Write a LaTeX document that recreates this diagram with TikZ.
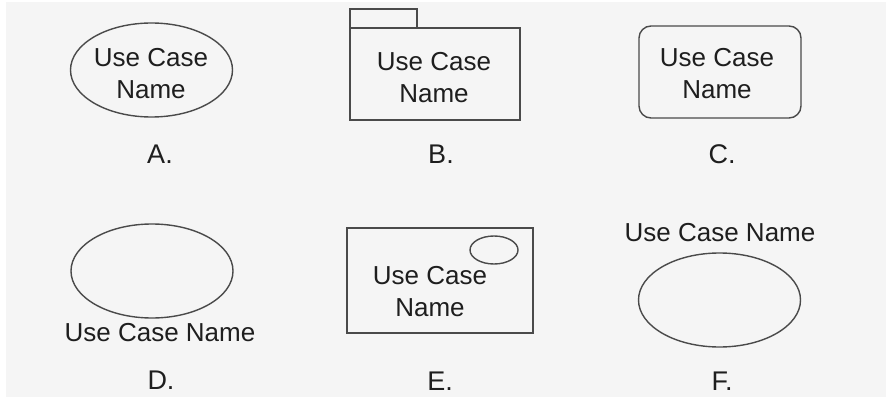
\documentclass[tikz,border=0pt]{standalone}
\usepackage{fontspec}
\setmainfont{Liberation Sans}
\usetikzlibrary{shapes.geometric}
\definecolor{bgc}{HTML}{F5F5F5}
\definecolor{linec}{HTML}{4A4A4A}
\definecolor{txtc}{HTML}{1E1E1E}
\begin{document}
\begin{tikzpicture}[x=1pt,y=-1pt,
  shapeline/.style={draw=linec,line width=1.4pt},
  ucell/.style={ellipse,shapeline,minimum width=162pt,minimum height=94pt,inner sep=0pt},
  utext/.style={text=txtc,font=\fontsize{26}{32}\selectfont,align=center,inner sep=0pt},
  ulabel/.style={text=txtc,font=\fontsize{27}{32}\selectfont,inner sep=0pt}
]
\useasboundingbox (0,0) rectangle (886,409);
\fill[white] (0,0) rectangle (886,409);
\fill[bgc] (6,2) rectangle (886,397);

% A
\node[ucell] (aell) at (151.5,70) {};
\node[utext] (atext) at (151,74) {Use Case\\Name};
\node[ulabel] (alab) at (160,154) {A.};

% B
\node[shapeline,rectangle,minimum width=67pt,minimum height=19pt,inner sep=0pt] (btab) at (383.5,18.5) {};
\node[shapeline,rectangle,minimum width=170pt,minimum height=92pt,inner sep=0pt] (bbox) at (435,74) {};
\node[utext] (btext) at (434,78) {Use Case\\Name};
\node[ulabel] (blab) at (441,154) {B.};

% C
\node[shapeline,rectangle,rounded corners=12pt,minimum width=162pt,minimum height=92pt,inner sep=0pt] (cbox) at (720,72) {};
\node[utext] (ctext) at (717,74) {Use Case\\Name};
\node[ulabel] (clab) at (722,154) {C.};

% D
\node[ucell] (dell) at (152,271) {};
\node[utext] (dtext) at (160,333) {Use Case Name};
\node[ulabel] (dlab) at (161,380) {D.};

% E
\node[shapeline,rectangle,minimum width=186pt,minimum height=105pt,inner sep=0pt] (ebox) at (440,280.5) {};
\node[ellipse,shapeline,minimum width=48pt,minimum height=28pt,inner sep=0pt] (esmall) at (494,250) {};
\node[utext] (etext) at (430,292) {Use Case\\Name};
\node[ulabel] (elab) at (440,381) {E.};

% F
\node[utext] (ftext) at (720,233) {Use Case Name};
\node[ucell] (fell) at (719.5,300) {};
\node[ulabel] (flab) at (722,381) {F.};
\end{tikzpicture}
\end{document}
